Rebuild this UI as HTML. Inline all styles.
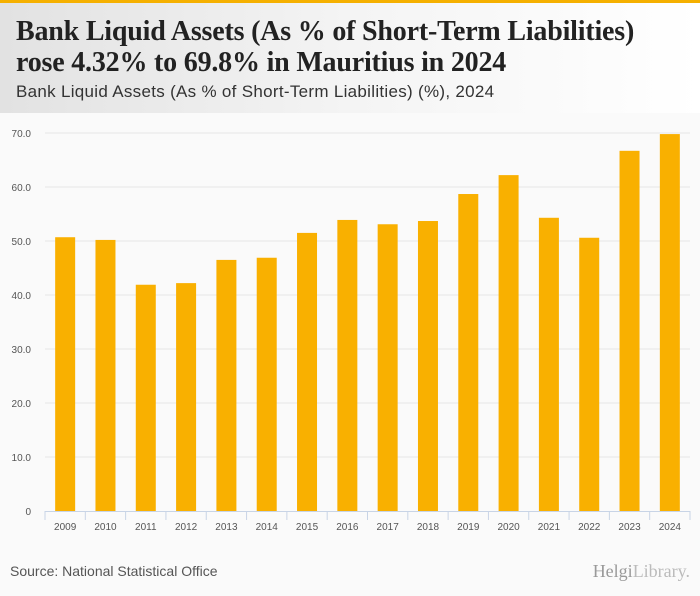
<!DOCTYPE html>
<html><head><meta charset="utf-8"><style>
body{margin:0;width:700px;height:596px;background:#fafafa;font-family:"Liberation Sans",sans-serif;overflow:hidden;position:relative}
#hdr{position:absolute;left:0;top:0;width:700px;height:113px;background:linear-gradient(90deg,#e2e2e2 0%,#f4f4f4 50%,#fff 100%);border-top:3px solid #f5b000;box-sizing:border-box}
#t{position:absolute;left:16px;top:13px;font-family:"Liberation Serif",serif;font-weight:bold;font-size:28px;line-height:31px;color:#222;letter-spacing:-0.2px;white-space:nowrap}
#st{position:absolute;left:16px;top:79px;font-size:17px;color:#333;letter-spacing:0.3px;white-space:nowrap}
#src{position:absolute;left:10px;top:563px;font-size:14px;color:#555}
#logo{position:absolute;right:10px;top:561px;font-family:"Liberation Serif",serif;font-size:18px;color:#999}
</style></head><body>
<div id="hdr">
<div id="t">Bank Liquid Assets (As % of Short-Term Liabilities)<br>rose 4.32% to 69.8% in Mauritius in 2024</div>
<div id="st">Bank Liquid Assets (As % of Short-Term Liabilities) (%), 2024</div>
</div>
<svg id="c" width="700" height="596" style="position:absolute;left:0;top:0"></svg>
<div id="src">Source: National Statistical Office</div>
<div id="logo">Helgi<span style="color:#bbb">Library.</span></div>
<script>
const categories=["2009","2010","2011","2012","2013","2014","2015","2016","2017","2018","2019","2020","2021","2022","2023","2024"];
const values=[50.7,50.2,41.9,42.2,46.5,46.9,51.5,53.9,53.1,53.7,58.7,62.2,54.3,50.6,66.7,69.8];
const yTicks=[0,10,20,30,40,50,60,70];
const yTickLabels=["0","10.0","20.0","30.0","40.0","50.0","60.0","70.0"];
const svg=document.getElementById('c');const NS="http://www.w3.org/2000/svg";
const x0=45,x1=690,yb=511,yt=133,ymax=70;
const band=(x1-x0)/categories.length;
const y=v=>yb-(v/ymax)*(yb-yt);
const xc=i=>x0+band*(i+0.5);
function mk(t,a){const e=document.createElementNS(NS,t);for(const k in a)e.setAttribute(k,a[k]);svg.appendChild(e);return e;}
yTicks.forEach((t,i)=>{
 if(t>0){const g=mk('line',{x1:x0,x2:x1,y1:y(t),y2:y(t),stroke:'#e6e6e6','stroke-width':1});
 
 }
 const l=mk('text',{x:31,y:y(t)+4,'text-anchor':'end','font-size':10,fill:'#555','font-family':'Liberation Sans, sans-serif'});
 l.textContent=yTickLabels[i];
 
 
});
values.forEach((v,i)=>{
 const r=mk('rect',{x:xc(i)-10,y:y(v),width:20,height:yb-y(v),fill:'#f9b000'});
 
 
 const l=mk('text',{x:xc(i),y:530,'text-anchor':'middle','font-size':10,fill:'#555','font-family':'Liberation Sans, sans-serif'});
 l.textContent=categories[i];
 
 
});
const ax=mk('line',{x1:x0,x2:x1,y1:yb+0.5,y2:yb+0.5,stroke:'#c8d4e6'});


for(let i=0;i<=categories.length;i++){const tk=mk('line',{x1:x0+band*i,x2:x0+band*i,y1:yb,y2:yb+9,stroke:'#c8d4e6'});
 
 }
</script>
</body></html>
